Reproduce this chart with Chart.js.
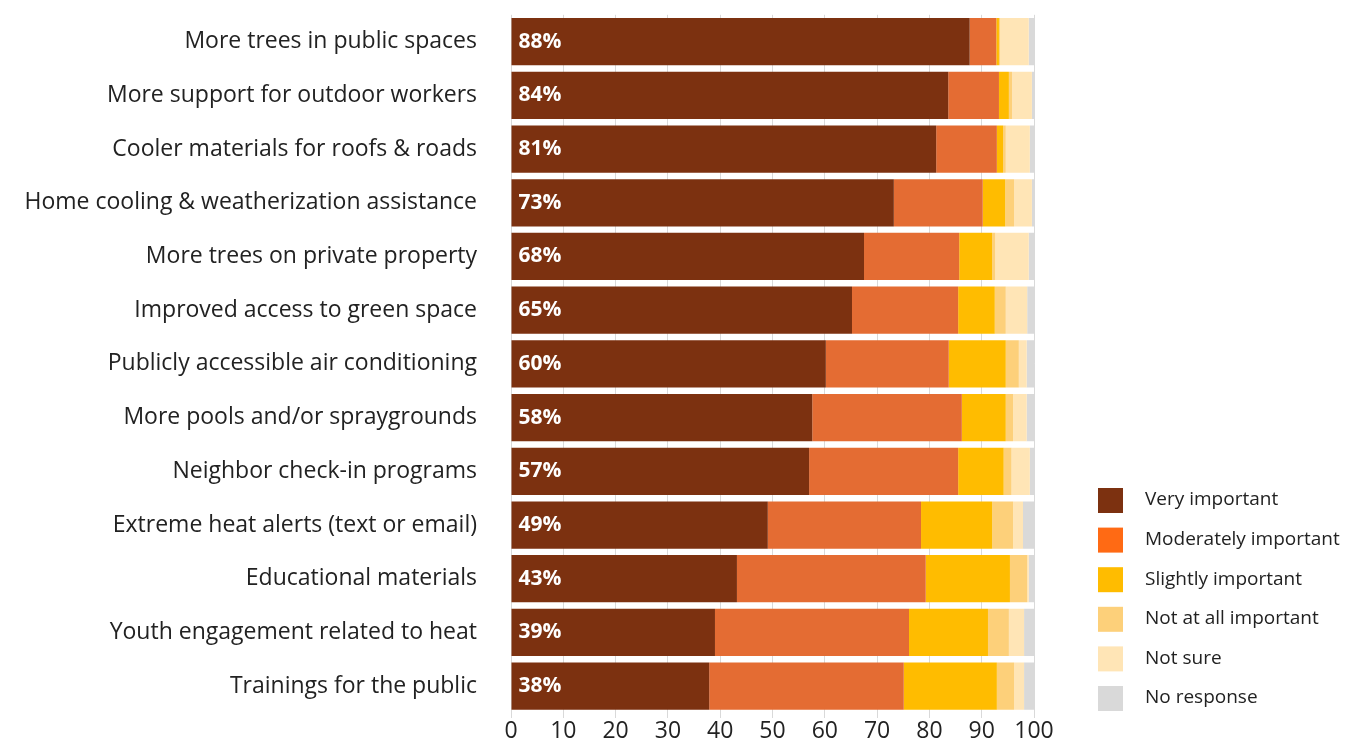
<!DOCTYPE html>
<html>
<head>
<meta charset="utf-8">
<script src="https://cdn.jsdelivr.net/npm/chart.js@4"></script>
<style>
  html, body { margin: 0; padding: 0; background: #fff; }
  #wrap { width: 1358px; height: 743px; position: relative; }
</style>
</head>
<body>
<div id="wrap"><canvas id="heatChart" width="1358" height="743"></canvas></div>
<script>
const categories = [
  "More trees in public spaces",
  "More support for outdoor workers",
  "Cooler materials for roofs & roads",
  "Home cooling & weatherization assistance",
  "More trees on private property",
  "Improved access to green space",
  "Publicly accessible air conditioning",
  "More pools and/or spraygrounds",
  "Neighbor check-in programs",
  "Extreme heat alerts (text or email)",
  "Educational materials",
  "Youth engagement related to heat",
  "Trainings for the public"
];

const veryImportant       = [87.7, 83.6, 81.3, 73.2, 67.5, 65.2, 60.2, 57.6, 57.0, 49.1, 43.2, 39.0, 37.9];
const moderatelyImportant = [5.1, 9.7, 11.6, 17.0, 18.2, 20.3, 23.5, 28.6, 28.5, 29.3, 36.1, 37.1, 37.2];
const slightlyImportant   = [0.5, 1.9, 1.2, 4.3, 6.3, 7.0, 10.9, 8.4, 8.7, 13.6, 16.1, 15.1, 17.8];
const notAtAllImportant   = [0.2, 0.6, 0.5, 1.7, 0.6, 2.1, 2.5, 1.4, 1.5, 4.0, 3.3, 4.0, 3.3];
const notSure             = [5.5, 3.8, 4.6, 3.4, 6.4, 4.1, 1.5, 2.6, 3.5, 1.9, 0.3, 2.9, 1.9];
const noResponse          = [1.0, 0.4, 0.8, 0.4, 1.0, 1.3, 1.4, 1.4, 0.8, 2.1, 1.0, 1.9, 1.9];

const xTicks = [0, 10, 20, 30, 40, 50, 60, 70, 80, 90, 100];

const seriesNames = ["Very important", "Moderately important", "Slightly important",
                     "Not at all important", "Not sure", "No response"];
const seriesData = [veryImportant, moderatelyImportant, slightlyImportant,
                    notAtAllImportant, notSure, noResponse];
const barColors = ["#7C3110", "#E46C33", "#FFBC00", "#FDD07A", "#FFE5B6", "#D9D9D9"];
const legendColors = ["#7C3110", "#FF6A14", "#FFBC00", "#FDD07A", "#FFE5B6", "#D9D9D9"];

const FONT = "'Open Sans', sans-serif";

// white percent labels on the dark segment
const valueLabels = {
  id: "valueLabels",
  afterDatasetsDraw(chart) {
    const ctx = chart.ctx;
    const meta = chart.getDatasetMeta(0);
    ctx.save();
    ctx.fillStyle = "#fff";
    ctx.font = "bold 21px " + FONT;
    ctx.textBaseline = "middle";
    ctx.textAlign = "left";
    meta.data.forEach((bar, i) => {
      ctx.fillText(Math.round(veryImportant[i]) + "%", bar.base + 7, bar.y);
    });
    ctx.restore();
  }
};

// legend on the right, bottom aligned
const sideLegend = {
  id: "sideLegend",
  afterDraw(chart) {
    const ctx = chart.ctx;
    ctx.save();
    ctx.font = "19px " + FONT;
    ctx.textBaseline = "middle";
    seriesNames.forEach((name, i) => {
      const y = 500 + i * 39.6;
      ctx.fillStyle = legendColors[i];
      ctx.fillRect(1098, y - 12, 25, 25);
      ctx.fillStyle = "#222";
      ctx.fillText(name, 1145, y);
    });
    ctx.restore();
  }
};

const chart = new Chart(document.getElementById("heatChart"), {
  type: "bar",
  data: {
    labels: categories,
    datasets: seriesNames.map((name, i) => ({
      label: name,
      data: seriesData[i],
      backgroundColor: barColors[i],
      borderWidth: 0,
      barPercentage: 0.88,
      categoryPercentage: 1.0
    }))
  },
  options: {
    indexAxis: "y",
    responsive: false,
    animation: false,
    layout: { padding: { top: 13, right: 324, bottom: 0, left: 0 } },
    plugins: {
      legend: { display: false },
      tooltip: { enabled: false }
    },
    scales: {
      x: {
        stacked: true,
        min: 0,
        max: 100,
        afterBuildTicks: s => { s.ticks = xTicks.map(v => ({ value: v })); },
        afterFit: s => { s.height = 30; },
        grid: { color: "#d9d9d9", lineWidth: 1, tickLength: 5, drawOnChartArea: true },
        border: { display: false },
        ticks: { color: "#222", font: { family: FONT, size: 23 }, padding: 0, maxRotation: 0 }
      },
      y: {
        stacked: true,
        afterFit: s => { s.width = 511; },
        grid: { display: true, color: "rgba(0,0,0,0)", drawOnChartArea: false, tickLength: 33 },
        border: { display: false },
        ticks: { color: "#222", font: { family: FONT, size: 23 }, padding: 1, autoSkip: false }
      }
    }
  },
  plugins: [valueLabels, sideLegend]
});
</script>
</body>
</html>
